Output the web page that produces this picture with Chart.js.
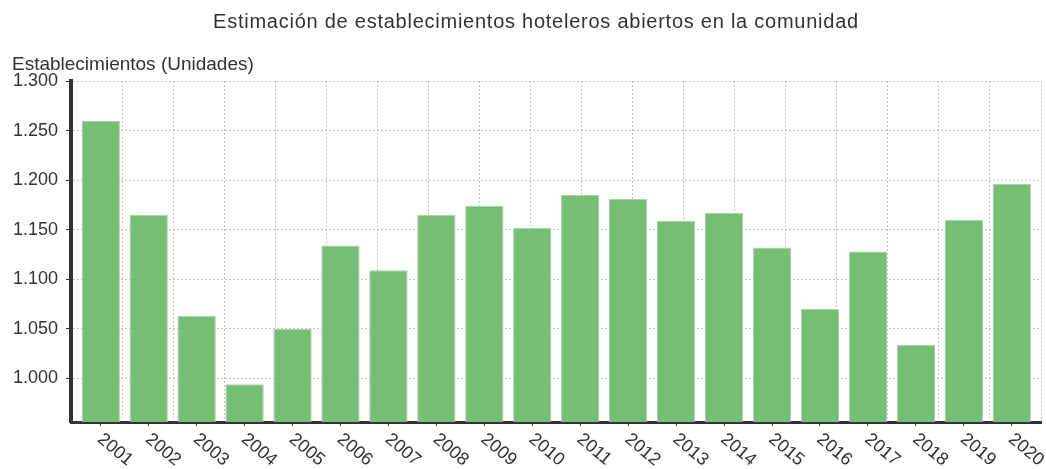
<!DOCTYPE html>
<html>
<head>
<meta charset="utf-8">
<script src="https://cdn.jsdelivr.net/npm/chart.js@4.4.1/dist/chart.umd.min.js"></script>
<style>
  html, body { margin: 0; padding: 0; background: #fff; }
  #caja { width: 1046px; height: 469px; position: relative; }
</style>
</head>
<body>
<div id="caja"><canvas id="grafica"></canvas></div>
<script>
// datos
const anios = ['2001', '2002', '2003', '2004', '2005', '2006', '2007', '2008', '2009', '2010',
               '2011', '2012', '2013', '2014', '2015', '2016', '2017', '2018', '2019', '2020']
const establecimientos = [1260, 1165, 1063, 994, 1050, 1134, 1109, 1165, 1174, 1152,
                          1185, 1181, 1159, 1167, 1132, 1070, 1128, 1034, 1160, 1196]
const ticksY = [1000, 1050, 1100, 1150, 1200, 1250, 1300]

const titulo = 'Estimación de establecimientos hoteleros abiertos en la comunidad'
const tituloEje = 'Establecimientos (Unidades)'

const fuente = '"Liberation Sans", Arial, Helvetica, sans-serif'
const colorTexto = '#333333'

// 1300 -> "1.300"
const formato = (v) => {
    const miles = Math.floor(v / 1000)
    const resto = String(v % 1000).padStart(3, '0')
    return miles > 0 ? `${miles}.${resto}` : String(v)
}

// titulo y titulo del eje, colocados a mano
const textos = {
    id: 'textos',
    afterDraw(chart) {
        const ctx = chart.ctx
        ctx.save()
        ctx.fillStyle = colorTexto
        ctx.textBaseline = 'alphabetic'
        ctx.font = `20px ${fuente}`
        ctx.letterSpacing = '0.75px'
        ctx.textAlign = 'center'
        ctx.fillText(titulo, 536, 28)
        ctx.letterSpacing = '0px'
        ctx.font = `19px ${fuente}`
        ctx.textAlign = 'left'
        ctx.fillText(tituloEje, 12, 70)
        ctx.restore()
    }
}

// etiquetas del eje x giradas hacia abajo
const etiquetasX = {
    id: 'etiquetasX',
    afterDraw(chart) {
        const ctx = chart.ctx
        const x = chart.scales.x
        ctx.save()
        ctx.fillStyle = colorTexto
        ctx.font = `18px ${fuente}`
        ctx.textAlign = 'left'
        ctx.textBaseline = 'middle'
        anios.forEach((anio, i) => {
            ctx.save()
            ctx.translate(x.getPixelForValue(i) - 1, chart.chartArea.bottom + 15)
            ctx.rotate(40 * Math.PI / 180)
            ctx.fillText(anio, 0, 0)
            ctx.restore()
        })
        ctx.restore()
    }
}

const dataConfig = {
    datasets: [{
        label: tituloEje,
        data: establecimientos.map((v, i) => ({ x: i, y: v })),
        backgroundColor: '#76be76',
        borderColor: '#a6d6a6',
        borderWidth: 1,
        barPercentage: 0.8,
        categoryPercentage: 1
    }]
}

const config = {
    type: 'bar',
    data: dataConfig,
    options: {
        responsive: true,
        maintainAspectRatio: false,
        animation: false,
        layout: {
            padding: { top: 81, right: 5, bottom: 43, left: 0 }
        },
        plugins: {
            legend: { display: false },
            tooltip: { enabled: false }
        },
        scales: {
            x: {
                type: 'linear',
                position: 'bottom',
                offset: false,
                min: -0.62,
                max: 19.61,
                afterBuildTicks: (scale) => {
                    scale.ticks = anios.map((a, i) => ({ value: i }))
                },
                ticks: { display: false },
                grid: {
                    offset: false,
                    drawOnChartArea: false,
                    drawTicks: true,
                    tickLength: 4,
                    tickColor: '#333333',
                    tickWidth: 1
                },
                border: { display: true, color: '#333333', width: 3 }
            },
            rejilla: {
                type: 'linear',
                position: 'top',
                offset: false,
                min: 0,
                max: 19,
                ticks: { display: false, stepSize: 1 },
                grid: {
                    offset: false,
                    color: '#c4c4c4',
                    lineWidth: 1,
                    drawTicks: false
                },
                border: { display: false, dash: [2, 2] }
            },
            y: {
                min: 956,
                max: 1300,
                afterBuildTicks: (scale) => {
                    scale.ticks = ticksY.map((v) => ({ value: v }))
                },
                afterFit: (scale) => {
                    scale.width = 71
                },
                ticks: {
                    color: colorTexto,
                    font: { family: fuente, size: 18 },
                    padding: 8,
                    callback: (value) => formato(value)
                },
                grid: {
                    color: '#c4c4c4',
                    lineWidth: 1,
                    tickLength: 5,
                    tickColor: '#333333'
                },
                border: { display: true, color: '#333333', width: 4, dash: [2, 2] }
            }
        }
    },
    plugins: [textos, etiquetasX]
}

window.graficaUno = new Chart(document.getElementById('grafica'), config)
</script>
</body>
</html>
